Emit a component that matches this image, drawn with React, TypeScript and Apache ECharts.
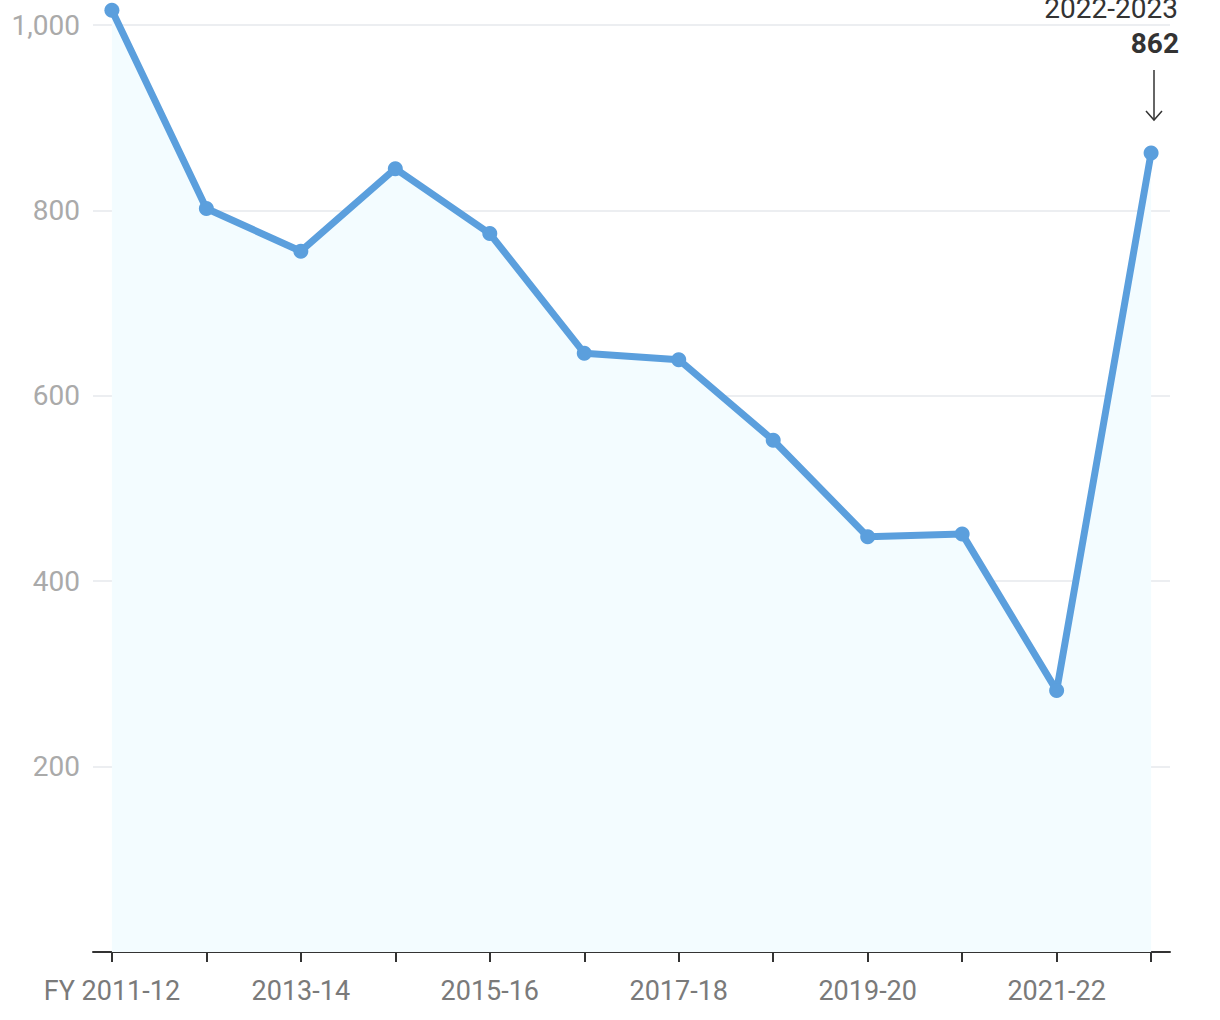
import React, { useEffect, useRef } from "react";
import * as echarts from "echarts";

const categories = [
  "2011-12", "2012-13", "2013-14", "2014-15", "2015-16", "2016-17",
  "2017-18", "2018-19", "2019-20", "2020-21", "2021-22", "2022-23",
];
const values = [1016, 802, 756, 845, 775, 646, 639, 552, 448, 451, 282, 862];
const yTicks = [0, 200, 400, 600, 800, 1000];
const labelIdx = [0, 2, 4, 6, 8, 10];
const annotationTitle = "2022-2023";
const annotationValue = "862";

export default function App() {
  const ref = useRef<HTMLDivElement>(null);
  useEffect(() => {
    if (!ref.current) return;
    const chart = echarts.init(ref.current, null, { renderer: "svg" });
    const font = "Roboto, 'Noto Sans', sans-serif";
    chart.setOption({
      animation: false,
      textStyle: { fontFamily: font },
      grid: { left: 93, right: 50, top: 25, bottom: 68, containLabel: false },
      xAxis: {
        type: "value",
        min: -0.2,
        max: categories.length - 0.8,
        axisLine: { show: true, lineStyle: { color: "#333", width: 2 } },
        axisTick: {
          show: true,
          customValues: categories.map((_, i) => i),
          length: 10,
          lineStyle: { color: "#333", width: 2 },
        },
        axisLabel: {
          customValues: labelIdx,
          formatter: (v: number) => (v === 0 ? "FY " : "") + categories[Math.round(v)],
          color: "#7a7a7a",
          fontSize: 27,
          margin: 25,
          fontFamily: font,
        },
        splitLine: { show: false },
      },
      yAxis: {
        type: "value",
        min: yTicks[0],
        max: yTicks[yTicks.length - 1],
        interval: 200,
        axisLine: { show: false },
        axisTick: { show: false },
        axisLabel: {
          formatter: (v: number) => (v === 0 ? "" : v.toLocaleString("en-US")),
          color: "#aaaaaa",
          fontSize: 28,
          margin: 13,
          fontFamily: font,
        },
        splitLine: { show: true, lineStyle: { color: "#e6e9ec", width: 1.5 } },
      },
      series: [
        {
          type: "line",
          clip: false,
          data: values.map((v, i) => [i, v]),
          symbol: "circle",
          symbolSize: 15,
          lineStyle: { color: "#5b9fdd", width: 7 },
          itemStyle: { color: "#5b9fdd" },
          areaStyle: { color: "#f3fcff", opacity: 1 },
          z: 3,
        },
      ],
      graphic: [
        {
          type: "text",
          right: 42,
          top: -6,
          style: {
            text: annotationTitle,
            fontSize: 28,
            fill: "#333",
            fontFamily: font,
          },
          z: 10,
        },
        {
          type: "text",
          right: 41,
          top: 29,
          style: {
            text: annotationValue,
            fontSize: 28,
            fontWeight: "bold",
            fill: "#333",
            fontFamily: font,
          },
          z: 10,
        },
        {
          type: "line",
          shape: { x1: 1154, y1: 70, x2: 1154, y2: 120 },
          style: { stroke: "#333", lineWidth: 1.5 },
          z: 10,
        },
        {
          type: "polyline",
          shape: { points: [[1146, 111], [1154, 120], [1162, 111]] },
          style: { stroke: "#333", lineWidth: 1.5, fill: null },
          z: 10,
        },
      ],
    });
    return () => chart.dispose();
  }, []);
  return (
    <div
      ref={ref}
      style={{ position: "fixed", left: 0, top: 0, width: 1220, height: 1020, background: "#fff" }}
    />
  );
}
